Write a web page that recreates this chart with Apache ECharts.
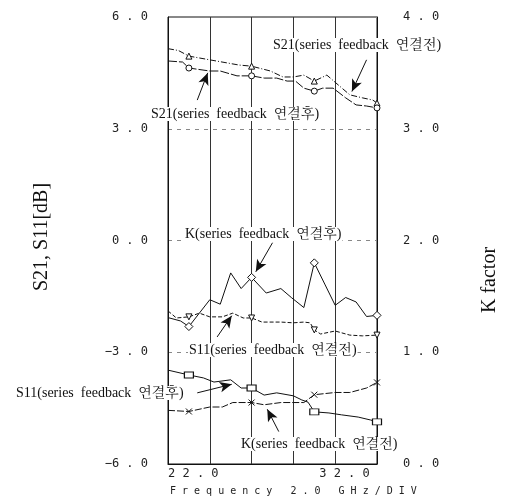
<!DOCTYPE html>
<html>
<head>
<meta charset="utf-8">
<script src="https://cdn.jsdelivr.net/npm/echarts@6/dist/echarts.min.js"></script>
<style>
  html, body { margin: 0; padding: 0; background: #fff; }
  #c { width: 526px; height: 500px; }
</style>
</head>
<body>
<div id="c"></div>
<script>
// Frequencies (GHz) carrying the analyzer markers
const markerFreqs = [23, 26, 29, 32];

// S21 [dB], before / after series feedback
const s21Before = [
  [22.0, 5.15], [22.5, 5.10], [23.0, 4.95], [23.5, 4.90], [24.3, 4.82], [25.4, 4.71],
  [26.0, 4.68], [26.9, 4.55], [27.5, 4.39], [28.0, 4.39], [28.5, 4.44], [29.0, 4.28],
  [29.6, 4.44], [30.2, 4.15], [30.7, 3.91], [31.3, 3.83], [31.8, 3.77], [32.0, 3.69]
];
const s21After = [
  [22.0, 4.82], [22.7, 4.79], [23.0, 4.63], [24.0, 4.55], [24.5, 4.55], [25.3, 4.42],
  [26.0, 4.42], [26.6, 4.36], [27.2, 4.36], [27.7, 4.28], [28.1, 4.28], [28.5, 4.09],
  [29.0, 4.01], [29.4, 4.09], [29.9, 4.09], [30.5, 3.83], [31.0, 3.64], [31.5, 3.61],
  [32.0, 3.56]
];

// K factor, before / after series feedback
const kAfter = [
  [22.0, 1.31], [22.6, 1.28], [23.0, 1.23], [23.5, 1.35], [24.0, 1.47], [24.5, 1.43],
  [25.0, 1.71], [25.5, 1.57], [26.0, 1.67], [26.7, 1.53], [27.4, 1.57], [27.9, 1.49],
  [28.5, 1.40], [29.0, 1.80], [29.5, 1.61], [30.0, 1.42], [30.5, 1.49], [31.0, 1.45],
  [31.5, 1.32], [32.0, 1.33]
];
const kBefore = [
  [22.0, 0.48], [23.0, 0.47], [24.0, 0.51], [24.6, 0.51], [25.1, 0.55], [26.0, 0.55],
  [26.6, 0.53], [27.4, 0.55], [28.0, 0.55], [28.5, 0.55], [29.0, 0.62], [30.0, 0.64],
  [30.7, 0.64], [31.5, 0.68], [32.0, 0.73]
];

// S11 [dB], before / after series feedback
const s11Before = [
  [22.0, -1.89], [22.4, -2.08], [23.0, -2.05], [23.5, -1.95], [24.0, -2.05], [24.6, -2.05],
  [25.1, -1.95], [25.6, -2.08], [26.0, -2.08], [26.5, -2.19], [27.4, -2.19], [28.0, -2.21],
  [28.5, -2.19], [28.8, -2.21], [29.0, -2.40], [29.3, -2.51], [30.0, -2.43], [30.7, -2.54],
  [31.3, -2.56], [32.0, -2.54]
];
const s11After = [
  [22.0, -3.48], [23.0, -3.61], [23.7, -3.69], [24.2, -3.80], [25.0, -3.74], [25.5, -3.96],
  [26.0, -3.96], [26.6, -4.15], [27.2, -4.09], [28.0, -4.17], [28.4, -4.28], [28.7, -4.34],
  [29.0, -4.60], [29.7, -4.63], [30.3, -4.68], [31.1, -4.74], [31.7, -4.82], [32.0, -4.87]
];

// Axis ranges
const freqMin = 22, freqMax = 32, freqStep = 2;
const dbMin = -6, dbMax = 6, dbStep = 3;
const kMin = 0, kMax = 4, kStep = 1;

const INK = '#111';
const SERIF = '"Liberation Serif", "Noto Serif CJK KR", "Noto Sans CJK KR", serif';
const MONO = '"DejaVu Sans Mono", "Liberation Mono", monospace';
const CROSS = 'path://M0,0 L10,10 M10,0 L0,10';
const DOWN_TRI = 'path://M0,0 L10,0 L5,9 Z';

function spaced(s) { return s.split('').join(' '); }
function tickText(v) {
  const t = Math.abs(v).toFixed(1).replace('.', ' . ');
  return (v < 0 ? '\u2212' : '') + t;
}

function trace(name, data, yAxisIndex, dash, marker, size, arrow) {
  return {
    name, type: 'line', data, yAxisIndex,
    showSymbol: true,
    symbol: v => markerFreqs.indexOf(v[0]) >= 0 ? marker : 'none',
    symbolSize: size,
    itemStyle: { color: '#fff', borderColor: INK, borderWidth: 1 },
    lineStyle: { color: INK, width: 1, type: dash },
    z: 3,
    markLine: {
      silent: true, animation: false,
      symbol: ['none', 'arrow'], symbolSize: [8, 12],
      label: { show: false },
      lineStyle: { color: INK, width: 1, type: 'solid' },
      itemStyle: { color: INK },
      data: [[{ coord: arrow[0] }, { coord: arrow[1] }]]
    }
  };
}

function note(text, x, y) {
  return {
    type: 'text', x, y, z: 10,
    style: {
      text, font: '14px ' + SERIF, fill: INK,
      backgroundColor: '#fff', padding: [0, 1],
      verticalAlign: 'middle'
    }
  };
}

const chart = echarts.init(document.getElementById('c'));
chart.setOption({
  animation: false,
  backgroundColor: '#fff',
  grid: { left: 168, right: 149, top: 17, bottom: 36, show: true, borderColor: INK, borderWidth: 1 },
  xAxis: {
    type: 'value', min: freqMin, max: freqMax, interval: freqStep,
    axisLine: { show: true, onZero: false, lineStyle: { color: INK } },
    axisTick: { show: false },
    splitLine: { show: true, lineStyle: { color: '#333', width: 1 } },
    axisLabel: {
      margin: 4, color: '#222', fontFamily: MONO, fontSize: 12,
      alignMinLabel: 'left', alignMaxLabel: 'right',
      formatter: v => v === freqMin ? spaced('22.0') : (v === freqMax ? spaced('32.0') + ' ' : '')
    }
  },
  yAxis: [
    {
      type: 'value', min: dbMin, max: dbMax, interval: dbStep,
      axisLine: { show: true, lineStyle: { color: INK } },
      axisTick: { show: false },
      splitLine: { show: true, lineStyle: { color: '#888', width: 1, type: [4, 5] } },
      axisLabel: { margin: 20, color: '#222', fontFamily: MONO, fontSize: 12, formatter: tickText }
    },
    {
      type: 'value', min: kMin, max: kMax, interval: kStep, position: 'right',
      axisLine: { show: true, lineStyle: { color: INK } },
      axisTick: { show: false },
      splitLine: { show: false },
      axisLabel: { margin: 26, color: '#222', fontFamily: MONO, fontSize: 12, formatter: tickText }
    }
  ],
  series: [
    trace('S21 before', s21Before, 0, [6, 2, 1, 2], 'triangle', 6, [[31.5, 4.85], [30.8, 4.0]]),
    trace('S21 after', s21After, 0, [9, 2], 'circle', 6, [[23.4, 3.77], [23.9, 4.5]]),
    trace('K after', kAfter, 1, 'solid', 'diamond', 8, [[27.0, 1.98], [26.2, 1.72]]),
    trace('K before', kBefore, 1, [7, 2], CROSS, 6, [[27.3, 0.29], [26.75, 0.49]]),
    trace('S11 before', s11Before, 0, [4, 2], DOWN_TRI, 6, [[24.35, -2.59], [25.05, -2.02]]),
    trace('S11 after', s11After, 0, 'solid', 'rect', [9, 6], [[23.4, -4.09], [25.05, -3.86]])
  ],
  graphic: [
    note('S21(series  feedback  \uc5f0\uacb0\uc804)', 272, 45),
    note('S21(series  feedback  \uc5f0\uacb0\ud6c4)', 150, 114),
    note('K(series  feedback  \uc5f0\uacb0\ud6c4)', 184, 234),
    note('S11(series  feedback  \uc5f0\uacb0\uc804)', 188, 350),
    note('S11(series  feedback  \uc5f0\uacb0\ud6c4)', 15, 393),
    note('K(series  feedback  \uc5f0\uacb0\uc804)', 240, 444),
    {
      type: 'text', x: 42, y: 237, rotation: Math.PI / 2,
      style: { text: 'S21, S11[dB]', font: '20px ' + SERIF, fill: INK, align: 'center', verticalAlign: 'middle' }
    },
    {
      type: 'text', x: 490, y: 280, rotation: Math.PI / 2,
      style: { text: 'K factor', font: '20px ' + SERIF, fill: INK, align: 'center', verticalAlign: 'middle' }
    },
    {
      type: 'text', x: 170, y: 491,
      style: { text: spaced('Frequency 2.0 GHz/DIV'), font: '10px ' + MONO, fill: '#222', verticalAlign: 'middle' }
    }
  ]
});
</script>
</body>
</html>
